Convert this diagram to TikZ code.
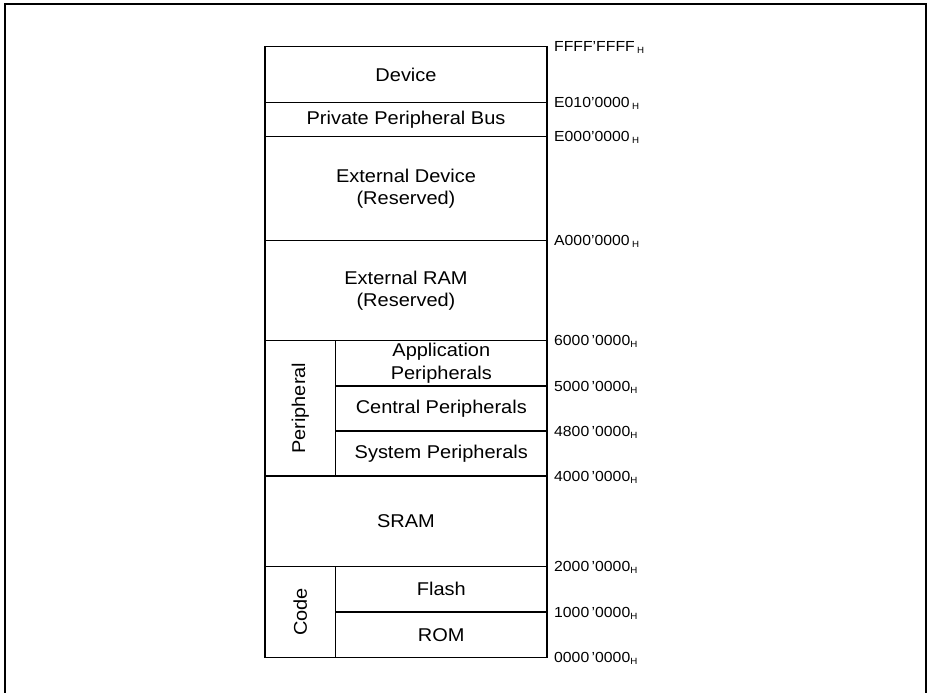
\documentclass[tikz,border=0pt]{standalone}
\usepackage{fontspec}
\setmainfont{Liberation Sans}[FakeStretch=1.08]
\newcommand{\hsubtop}{\,\raisebox{-1.5pt}{\fontsize{9}{9}\selectfont H}}
\newcommand{\hsubbot}{\raisebox{-2pt}{\fontsize{9}{9}\selectfont H}}
\begin{document}
\begin{tikzpicture}[x=1pt,y=-1pt,
  blk/.style={draw=black,line width=1.1pt},
  lbl/.style={font=\fontsize{18.5}{22.2}\selectfont,align=center,inner sep=0pt},
  addr/.style={font=\fontsize{14.6}{16}\selectfont,anchor=base west,inner sep=0pt}]
\useasboundingbox (0,0) rectangle (927,693);
% frame
\draw[line width=2pt] (5,693) -- (5,4.5) -- (926,4.5) -- (926,693);
% memory map outline
\draw[blk] (265,46.7) rectangle (547,657.3);
\draw[blk] (265,102.7) -- (547,102.7);
\draw[blk] (265,136.7) -- (547,136.7);
\draw[blk] (265,240.7) -- (547,240.7);
\draw[blk] (265,340.7) -- (547,340.7);
\draw[blk] (265,476) -- (547,476);
\draw[blk] (265,566.7) -- (547,566.7);
\draw[blk] (335.7,340.7) -- (335.7,476);
\draw[blk] (335.7,566.7) -- (335.7,657.3);
\draw[blk] (335.7,386) -- (547,386);
\draw[blk] (335.7,431) -- (547,431);
\draw[blk] (335.7,612) -- (547,612);
% region texts
\node[lbl] (dev) at (406,74.7) {Device};
\node[lbl] (ppb) at (406,119.7) {Private Peripheral Bus};
\node[lbl] (extdev) at (406,188.7) {External Device\\(Reserved)};
\node[lbl] (extram) at (406,290.7) {External RAM\\(Reserved)};
\node[lbl] (app) at (441.3,363.3) {Application\\Peripherals};
\node[lbl] (cen) at (441.3,408.5) {Central Peripherals};
\node[lbl] (sys) at (441.3,453.5) {System Peripherals};
\node[lbl,rotate=90] (per) at (300.3,408.3) {Peripheral};
\node[lbl] (sram) at (406,521.3) {SRAM};
\node[lbl,rotate=90] (code) at (300.3,612) {Code};
\node[lbl] (flash) at (441.3,589.3) {Flash};
\node[lbl] (rom) at (441.3,634.7) {ROM};
% addresses
\node[addr] (a1) at (554,51.7) {FFFF’FFFF\hsubtop};
\node[addr] (a2) at (554,107.7) {E010’0000\hsubtop};
\node[addr] (a3) at (554,141.7) {E000’0000\hsubtop};
\node[addr] (a4) at (554,245.7) {A000’0000\hsubtop};
\node[addr] (a5) at (554,345.7) {6000\,’0000\hsubbot};
\node[addr] (a6) at (554,391) {5000\,’0000\hsubbot};
\node[addr] (a7) at (554,436) {4800\,’0000\hsubbot};
\node[addr] (a8) at (554,481) {4000\,’0000\hsubbot};
\node[addr] (a9) at (554,571.7) {2000\,’0000\hsubbot};
\node[addr] (a10) at (554,617) {1000\,’0000\hsubbot};
\node[addr] (a11) at (554,662.3) {0000\,’0000\hsubbot};
\end{tikzpicture}
\end{document}
